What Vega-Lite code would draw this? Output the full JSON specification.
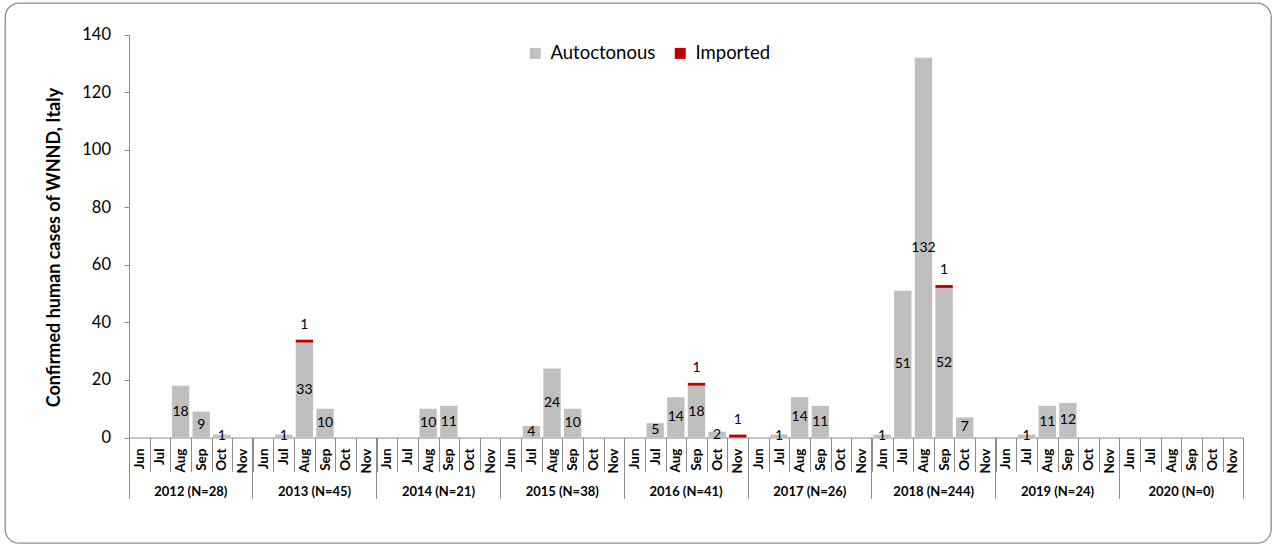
{
  "$schema": "https://vega.github.io/schema/vega-lite/v6.json",
  "autosize": "none",
  "padding": {"left": 5, "top": 3, "right": 2, "bottom": 2},
  "width": 1266,
  "height": 540,
  "background": "white",
  "config": {
    "view": {"stroke": "#8c8c8c", "strokeWidth": 1.3, "cornerRadius": 14},
    "font": "Lato",
    "axis": {"labelFont": "Lato", "titleFont": "Lato", "domainColor": "#8c8c8c", "tickColor": "#8c8c8c", "labelColor": "#000000", "titleColor": "#000000", "grid": false}
  },
  "data": {
    "values": [
      {"period": "2012 (N=28)|Jun", "Autoctonous": 0, "Imported": 0},
      {"period": "2012 (N=28)|Jul", "Autoctonous": 0, "Imported": 0},
      {"period": "2012 (N=28)|Aug", "Autoctonous": 18, "Imported": 0},
      {"period": "2012 (N=28)|Sep", "Autoctonous": 9, "Imported": 0},
      {"period": "2012 (N=28)|Oct", "Autoctonous": 1, "Imported": 0},
      {"period": "2012 (N=28)|Nov", "Autoctonous": 0, "Imported": 0},
      {"period": "2013 (N=45)|Jun", "Autoctonous": 0, "Imported": 0},
      {"period": "2013 (N=45)|Jul", "Autoctonous": 1, "Imported": 0},
      {"period": "2013 (N=45)|Aug", "Autoctonous": 33, "Imported": 1},
      {"period": "2013 (N=45)|Sep", "Autoctonous": 10, "Imported": 0},
      {"period": "2013 (N=45)|Oct", "Autoctonous": 0, "Imported": 0},
      {"period": "2013 (N=45)|Nov", "Autoctonous": 0, "Imported": 0},
      {"period": "2014 (N=21)|Jun", "Autoctonous": 0, "Imported": 0},
      {"period": "2014 (N=21)|Jul", "Autoctonous": 0, "Imported": 0},
      {"period": "2014 (N=21)|Aug", "Autoctonous": 10, "Imported": 0},
      {"period": "2014 (N=21)|Sep", "Autoctonous": 11, "Imported": 0},
      {"period": "2014 (N=21)|Oct", "Autoctonous": 0, "Imported": 0},
      {"period": "2014 (N=21)|Nov", "Autoctonous": 0, "Imported": 0},
      {"period": "2015 (N=38)|Jun", "Autoctonous": 0, "Imported": 0},
      {"period": "2015 (N=38)|Jul", "Autoctonous": 4, "Imported": 0},
      {"period": "2015 (N=38)|Aug", "Autoctonous": 24, "Imported": 0},
      {"period": "2015 (N=38)|Sep", "Autoctonous": 10, "Imported": 0},
      {"period": "2015 (N=38)|Oct", "Autoctonous": 0, "Imported": 0},
      {"period": "2015 (N=38)|Nov", "Autoctonous": 0, "Imported": 0},
      {"period": "2016 (N=41)|Jun", "Autoctonous": 0, "Imported": 0},
      {"period": "2016 (N=41)|Jul", "Autoctonous": 5, "Imported": 0},
      {"period": "2016 (N=41)|Aug", "Autoctonous": 14, "Imported": 0},
      {"period": "2016 (N=41)|Sep", "Autoctonous": 18, "Imported": 1},
      {"period": "2016 (N=41)|Oct", "Autoctonous": 2, "Imported": 0},
      {"period": "2016 (N=41)|Nov", "Autoctonous": 0, "Imported": 1},
      {"period": "2017 (N=26)|Jun", "Autoctonous": 0, "Imported": 0},
      {"period": "2017 (N=26)|Jul", "Autoctonous": 1, "Imported": 0},
      {"period": "2017 (N=26)|Aug", "Autoctonous": 14, "Imported": 0},
      {"period": "2017 (N=26)|Sep", "Autoctonous": 11, "Imported": 0},
      {"period": "2017 (N=26)|Oct", "Autoctonous": 0, "Imported": 0},
      {"period": "2017 (N=26)|Nov", "Autoctonous": 0, "Imported": 0},
      {"period": "2018 (N=244)|Jun", "Autoctonous": 1, "Imported": 0},
      {"period": "2018 (N=244)|Jul", "Autoctonous": 51, "Imported": 0},
      {"period": "2018 (N=244)|Aug", "Autoctonous": 132, "Imported": 0},
      {"period": "2018 (N=244)|Sep", "Autoctonous": 52, "Imported": 1},
      {"period": "2018 (N=244)|Oct", "Autoctonous": 7, "Imported": 0},
      {"period": "2018 (N=244)|Nov", "Autoctonous": 0, "Imported": 0},
      {"period": "2019 (N=24)|Jun", "Autoctonous": 0, "Imported": 0},
      {"period": "2019 (N=24)|Jul", "Autoctonous": 1, "Imported": 0},
      {"period": "2019 (N=24)|Aug", "Autoctonous": 11, "Imported": 0},
      {"period": "2019 (N=24)|Sep", "Autoctonous": 12, "Imported": 0},
      {"period": "2019 (N=24)|Oct", "Autoctonous": 0, "Imported": 0},
      {"period": "2019 (N=24)|Nov", "Autoctonous": 0, "Imported": 0},
      {"period": "2020 (N=0)|Jun", "Autoctonous": 0, "Imported": 0},
      {"period": "2020 (N=0)|Jul", "Autoctonous": 0, "Imported": 0},
      {"period": "2020 (N=0)|Aug", "Autoctonous": 0, "Imported": 0},
      {"period": "2020 (N=0)|Sep", "Autoctonous": 0, "Imported": 0},
      {"period": "2020 (N=0)|Oct", "Autoctonous": 0, "Imported": 0},
      {"period": "2020 (N=0)|Nov", "Autoctonous": 0, "Imported": 0}
    ]
  },
  "transform": [
    {"fold": ["Autoctonous", "Imported"], "as": ["type", "cases"]},
    {"stack": "cases", "groupby": ["period"], "sort": [{"field": "type", "order": "ascending"}], "as": ["c0", "c1"]}
  ],
  "layer": [
    {
      "mark": {"type": "bar", "width": {"band": 0.84}},
      "encoding": {
        "x": {
          "field": "period", "type": "nominal", "sort": null,
          "scale": {"paddingInner": 0, "paddingOuter": 0, "range": [124, 1238.3]},
          "axis": {
            "orient": "bottom", "offset": -105.5, "title": null,
            "tickBand": "extent", "tickSize": 34, "labelAngle": 270, "labelPadding": -23.5,
            "labelExpr": "split(datum.value, '|')[1]",
            "labelFontSize": 13.5, "labelFontWeight": "bold", "labelOverlap": false
          }
        },
        "y": {
          "field": "c1", "type": "quantitative",
          "scale": {"domain": [0, 140], "nice": false, "range": [434.5, 31.8]},
          "axis": {
            "orient": "left", "offset": -124, "values": [0, 20, 40, 60, 80, 100, 120, 140],
            "tickSize": 5, "labelPadding": 13.5, "labelFontSize": 16.5,
            "title": "Confirmed human cases of WNND, Italy", "titleFontSize": 18, "titleFontWeight": "bold",
            "titleX": -75, "titleY": 244, "titleBaseline": "middle", "titleAlign": "center", "titleAngle": -90
          }
        },
        "y2": {"field": "c0"},
        "color": {
          "field": "type", "type": "nominal",
          "scale": {"domain": ["Autoctonous", "Imported"], "range": ["#BFBFBF", "#C00000"]},
          "legend": {
            "orient": "none", "legendX": 521, "legendY": 41, "direction": "horizontal", "title": null,
            "symbolType": "square", "symbolSize": 121, "symbolStrokeWidth": 0, "symbolOpacity": 1,
            "labelFont": "Lato", "labelFontSize": 18.5, "labelColor": "#000000", "labelOffset": 6,
            "columnPadding": 15, "padding": 0
          }
        }
      }
    },
    {
      "mark": {"type": "text", "baseline": "middle", "align": "center", "fontSize": 14, "color": "#000000"},
      "encoding": {
        "x": {
          "field": "period", "type": "nominal", "sort": null,
          "scale": {"paddingInner": 0, "paddingOuter": 0, "range": [124, 1238.3]},
          "axis": {
            "orient": "bottom", "offset": -105.5, "title": null, "domain": false,
            "values": ["2012 (N=28)|Jun", "2013 (N=45)|Jun", "2014 (N=21)|Jun", "2015 (N=38)|Jun", "2016 (N=41)|Jun", "2017 (N=26)|Jun", "2018 (N=244)|Jun", "2019 (N=24)|Jun", "2020 (N=0)|Jun"],
            "bandPosition": 0, "tickSize": 61, "labelAngle": 0, "labelAlign": "center", "labelBaseline": "top",
            "labelPadding": -13, "labelOffset": 51.5, "labelExpr": "split(datum.value, '|')[0]",
            "labelFontSize": 13, "labelFontWeight": "bold", "labelOverlap": false, "labelBound": false, "labelFlush": false
          }
        },
        "y": {
          "field": "cases", "type": "quantitative",
          "scale": {"domain": [0, 280], "nice": false, "range": [434.5, 31.8]},
          "axis": null
        },
        "text": {
          "condition": {"test": "datum.type === 'Autoctonous' && datum.cases > 0", "field": "cases", "type": "quantitative"},
          "value": ""
        }
      }
    },
    {
      "mark": {"type": "text", "baseline": "middle", "align": "center", "fontSize": 14, "color": "#000000", "dy": -15},
      "encoding": {
        "x": {
          "field": "period", "type": "nominal", "sort": null,
          "scale": {"paddingInner": 0, "paddingOuter": 0, "range": [124, 1238.3]},
          "axis": {
            "orient": "bottom", "offset": -105.5, "title": null, "domain": false, "labels": false,
            "values": ["2020 (N=0)|Nov"], "bandPosition": 1, "tickSize": 61
          }
        },
        "y": {
          "field": "c1", "type": "quantitative",
          "scale": {"domain": [0, 140], "nice": false, "range": [434.5, 31.8]},
          "axis": null
        },
        "text": {
          "condition": {"test": "datum.type === 'Imported' && datum.cases > 0", "field": "cases", "type": "quantitative"},
          "value": ""
        }
      }
    }
  ],
  "resolve": {"scale": {"y": "independent"}, "axis": {"x": "independent", "y": "independent"}}
}
